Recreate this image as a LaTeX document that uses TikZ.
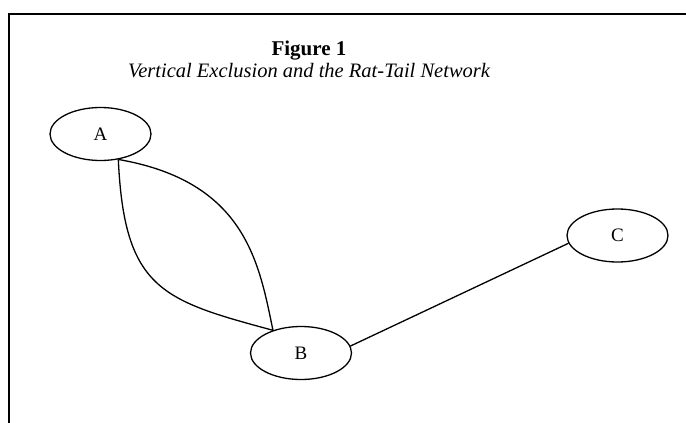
\documentclass[tikz,border=0pt]{standalone}
\usepackage{fontspec}
\setmainfont{Liberation Serif}
\usetikzlibrary{shapes.geometric}

\begin{document}
\begin{tikzpicture}[x=1pt,y=-1pt,line width=1.3pt,
  vertex/.style={ellipse,draw,minimum width=101pt,minimum height=53pt,inner sep=0pt,font=\fontsize{19}{22}\selectfont}]
\useasboundingbox (0,0) rectangle (686,423);
\draw[line width=2pt] (8.5,423) -- (8.5,14) -- (686,14);
\node[font=\bfseries\fontsize{21}{25}\selectfont,anchor=base] (title) at (309,55) {Figure 1};
\node[font=\itshape\fontsize{20.5}{25}\selectfont,anchor=base] (subtitle) at (309,77) {Vertical Exclusion and the Rat-Tail Network};
\node[vertex] (A) at (100.5,134) {A};
\node[vertex] (B) at (301,353) {B};
\node[vertex] (C) at (617.5,235.5) {C};
\draw (A.-55) .. controls +(6,130) and +(-111,-30) .. (B.141);
\draw (A.-55) .. controls +(127,22) and +(-14,-68) .. (B.141);
\draw (B.8) -- (C.189);
\end{tikzpicture}
\end{document}
